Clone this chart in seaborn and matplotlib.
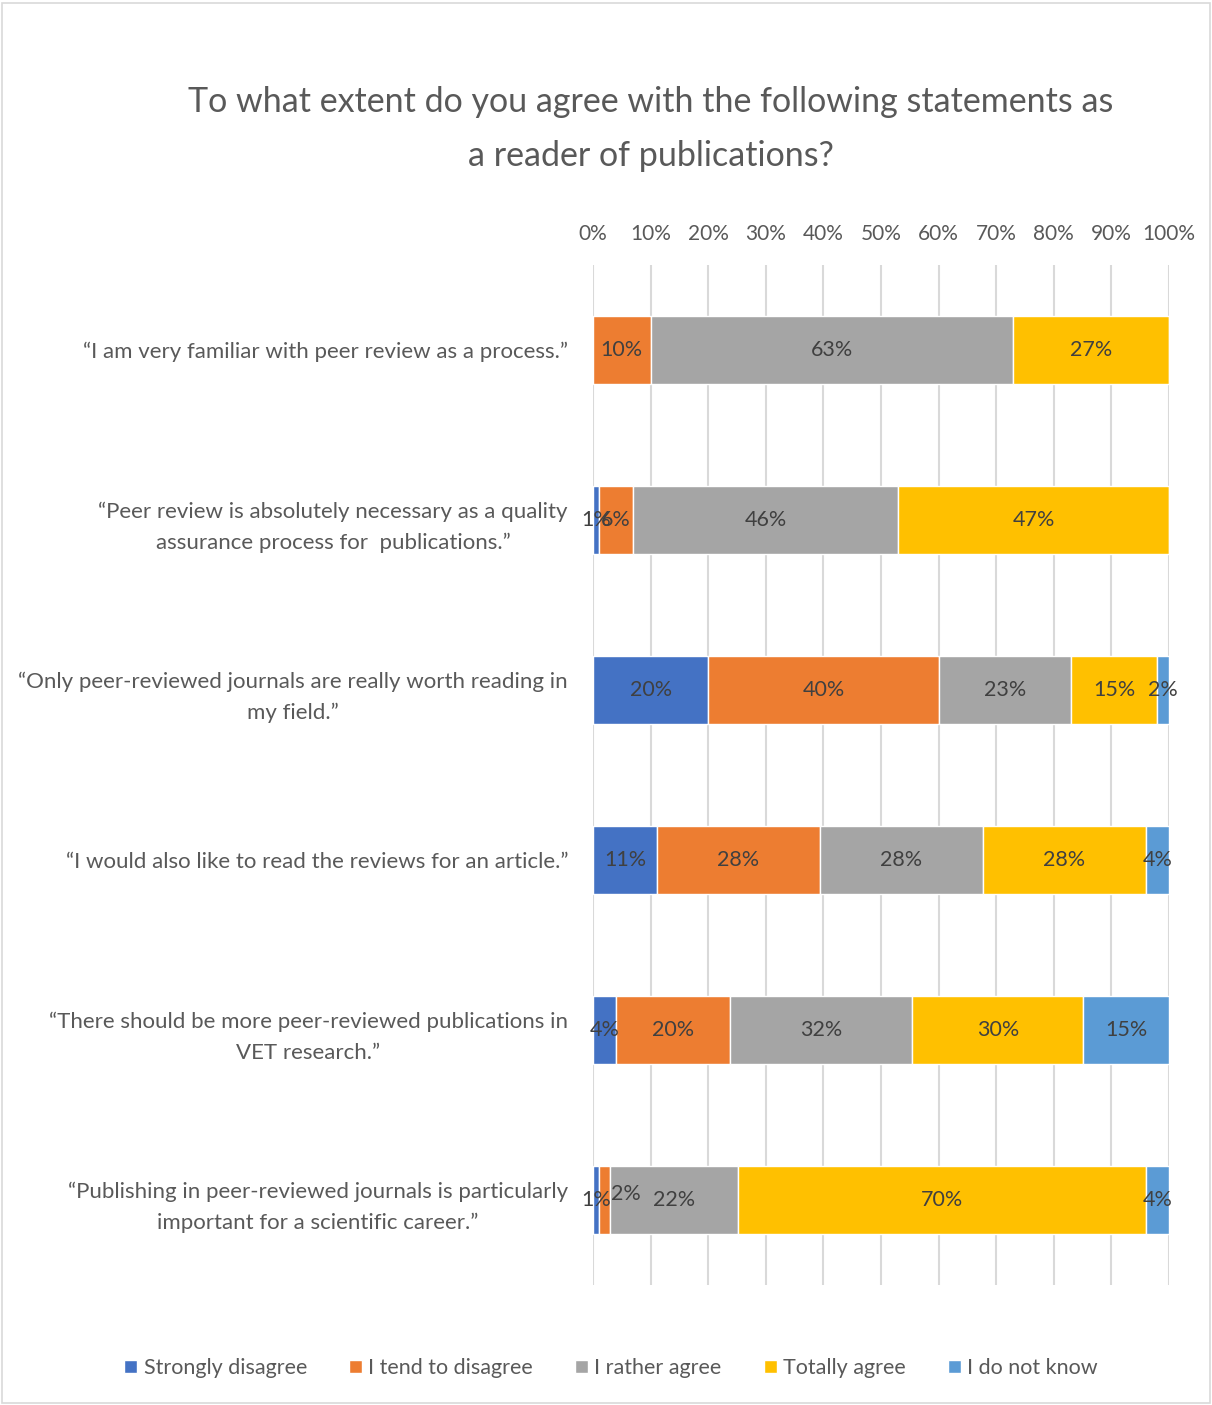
import numpy as np
import pandas as pd
import matplotlib
matplotlib.use("Agg")
import matplotlib.pyplot as plt
from matplotlib.patches import Rectangle
import seaborn as sns

# Survey statements (categories)
statements = [
    "“I am very familiar with peer review as a process.”",
    "“Peer review is absolutely necessary as a quality\nassurance process for  publications.”",
    "“Only peer-reviewed journals are really worth reading in\nmy field.”",
    "“I would also like to read the reviews for an article.”",
    "“There should be more peer-reviewed publications in\nVET research.”",
    "“Publishing in peer-reviewed journals is particularly\nimportant for a scientific career.”",
]

# Answer shares in percent, one list per answer option
strongly_disagree = [0, 1, 20, 11, 4, 1]
tend_to_disagree = [10, 6, 40, 28, 20, 2]
rather_agree = [63, 46, 23, 28, 32, 22]
totally_agree = [27, 47, 15, 28, 30, 70]
do_not_know = [0, 0, 2, 4, 15, 4]

answers = ["Strongly disagree", "I tend to disagree", "I rather agree",
           "Totally agree", "I do not know"]
series = [strongly_disagree, tend_to_disagree, rather_agree,
          totally_agree, do_not_know]
colors = ["#4472C4", "#ED7D31", "#A5A5A5", "#FFC000", "#5B9BD5"]

x_ticks = [0, 10, 20, 30, 40, 50, 60, 70, 80, 90, 100]
x_tick_labels = [f"{t}%" for t in x_ticks]

title = "To what extent do you agree with the following statements as\na reader of publications?"

sns.set_theme(style="white")
plt.rcParams["font.family"] = ["Lato", "DejaVu Sans"]

text_color = "#595959"
label_color = "#404040"

fig = plt.figure(figsize=(12.12, 14.05), dpi=100)
ax = fig.add_axes([593 / 1212, 1 - 1285 / 1405, 576 / 1212, 1020 / 1405])

values = np.array(series, dtype=float)
totals = values.sum(axis=0)
shares = values / totals * 100  # 100% stacked
lefts = np.vstack([np.zeros(len(statements)), np.cumsum(shares, axis=0)[:-1]])

for i, name in enumerate(answers):
    df = pd.DataFrame({"statement": statements, "share": shares[i]})
    sns.barplot(data=df, x="share", y="statement", orient="y", order=statements,
                color=colors[i], saturation=1, width=0.4, left=lefts[i], ax=ax,
                edgecolor="white", linewidth=1.0, label=name)

# Value labels in each segment
for i, cont in enumerate(ax.containers):
    labs = [f"{v:.0f}%" if v > 0 else "" for v in values[i]]
    anns = ax.bar_label(cont, labels=labs, label_type="center",
                        fontsize=15.5, color=label_color)
    if i == 1:
        # small segment on the last statement: move label off the neighbour
        anns[5].xyann = (15, 4)

ax.set_xlim(0, 100)
ax.set_xticks(x_ticks)
ax.set_xticklabels(x_tick_labels, fontsize=15, color=text_color)
ax.xaxis.tick_top()
ax.tick_params(axis="x", length=0, pad=15)
ax.tick_params(axis="y", length=0, pad=18)
ax.set_xlabel("")
ax.set_ylabel("")
for lab in ax.get_yticklabels():
    lab.set_fontsize(16)
    lab.set_color(text_color)
    lab.set_multialignment("center")
    lab.set_linespacing(1.65)

ax.grid(axis="x", color="#D9D9D9", linewidth=1.5)
ax.grid(axis="y", visible=False)
ax.set_axisbelow(True)
for s in ax.spines.values():
    s.set_visible(False)

if ax.legend_:
    ax.legend_.remove()
handles, labels = ax.get_legend_handles_labels()
fig.legend(handles, labels, loc="center", bbox_to_anchor=(611 / 1212, 1 - 1368 / 1405),
           ncol=5, frameon=False, fontsize=15.5, labelcolor=text_color,
           handlelength=0.6, handleheight=0.6, handletextpad=0.3, columnspacing=1.95)

fig.text(651 / 1212, 1 - 129 / 1405, title, ha="center", va="center",
         fontsize=24.5, color=text_color, linespacing=1.85, multialignment="center")

fig.patches.append(Rectangle((2 / 1212, 2 / 1405), 1208 / 1212, 1400 / 1405,
                             transform=fig.transFigure, fill=False,
                             edgecolor="#D9D9D9", linewidth=1.2))

fig.savefig("out.png", dpi=100, facecolor="white")
